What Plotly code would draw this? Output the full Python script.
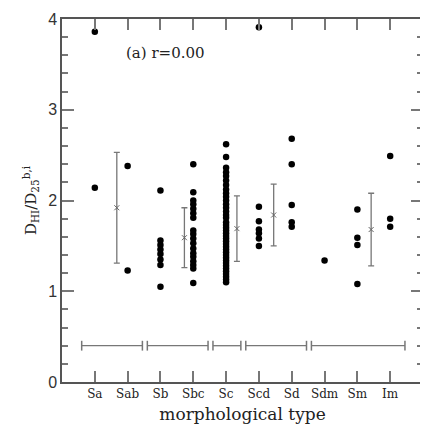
import plotly.graph_objects as go

categories = ["Sa", "Sab", "Sb", "Sbc", "Sc", "Scd", "Sd", "Sdm", "Sm", "Im"]

sa = [3.86, 2.14]
sab = [2.38, 1.23]
sb = [2.11, 1.56, 1.51, 1.46, 1.41, 1.35, 1.29, 1.05]
sbc = [2.40, 2.09, 2.00, 1.96, 1.91, 1.86, 1.81, 1.67, 1.63, 1.58, 1.53,
       1.47, 1.42, 1.38, 1.33, 1.29, 1.25, 1.09]
sc = [2.62, 2.48, 2.36, 2.31, 2.27, 2.22, 2.17, 2.12, 2.08, 2.04, 2.00,
      1.96, 1.92, 1.88, 1.84, 1.81, 1.76, 1.73, 1.70, 1.67, 1.64, 1.61,
      1.58, 1.55, 1.52, 1.49, 1.46, 1.43, 1.40, 1.37, 1.34, 1.31, 1.28,
      1.25, 1.22, 1.19, 1.16, 1.13, 1.10]
scd = [3.91, 1.93, 1.77, 1.68, 1.64, 1.58, 1.50]
sd = [2.68, 2.40, 1.95, 1.76, 1.71]
sdm = [1.34]
sm = [1.90, 1.59, 1.51, 1.08]
im = [2.49, 1.80, 1.71]

series = [sa, sab, sb, sbc, sc, scd, sd, sdm, sm, im]

# grouped means and spreads
group_pos = [1.67, 3.73, 5.33, 6.45, 9.42]
group_mean = [1.92, 1.59, 1.69, 1.84, 1.68]
group_sd = [0.61, 0.33, 0.36, 0.34, 0.40]

# grouping ranges (first and last category index of each group)
group_first = [1, 3, 5, 6, 8]
group_last = [2, 4, 5, 7, 10]
range_level = 0.4

fig = go.Figure()

xs, ys = [], []
for i, vals in enumerate(series):
    for v in vals:
        xs.append(i + 1)
        ys.append(v)
fig.add_trace(go.Scatter(x=xs, y=ys, mode="markers",
                         marker=dict(color="black", size=6.5),
                         showlegend=False, hoverinfo="skip"))

fig.add_trace(go.Scatter(
    x=group_pos, y=group_mean, mode="markers",
    marker=dict(symbol="x-thin", size=5, color="#666",
                line=dict(width=1, color="#666")),
    error_y=dict(type="data", array=group_sd, visible=True,
                 color="#777", thickness=1.3, width=3),
    showlegend=False, hoverinfo="skip"))

for a, b in zip(group_first, group_last):
    fig.add_trace(go.Scatter(
        x=[a - 0.4, b + 0.45], y=[range_level, range_level],
        mode="lines+markers",
        line=dict(color="#777", width=1.3),
        marker=dict(symbol="line-ns", size=7,
                    line=dict(width=1.5, color="#777")),
        showlegend=False, hoverinfo="skip"))

fig.add_annotation(x=1.9, y=3.62, text="(a) r=0.00", showarrow=False,
                   xanchor="left", yanchor="middle",
                   font=dict(family="DejaVu Serif", size=15, color="#222"))

axis_common = dict(showline=True, linecolor="#555", linewidth=1.5,
                   mirror="allticks", ticks="inside", tickcolor="#777",
                   tickwidth=1.5, showgrid=False, zeroline=False)

fig.update_xaxes(range=[0, 11], tickvals=list(range(1, 11)),
                 ticktext=categories, ticklen=11,
                 tickfont=dict(family="DejaVu Serif", size=12, color="#222"),
                 title=dict(text="morphological type",
                            font=dict(family="DejaVu Serif", size=17, color="#222"),
                            standoff=8),
                 **axis_common)
fig.update_yaxes(range=[0, 4], tickvals=[0, 1, 2, 3, 4], ticklen=12,
                 minor=dict(dtick=0.2, ticklen=6, ticks="inside",
                            tickcolor="#777", tickwidth=1.5),
                 tickfont=dict(family="Liberation Sans", size=16, color="#333"),
                 title=dict(text="D<sub>HI</sub>/D<sub>25</sub><sup>b,i</sup>",
                            font=dict(family="DejaVu Serif", size=15, color="#222"),
                            standoff=8),
                 **axis_common)

# the page body adds an 8px offset, so the figure is sized to fit the window
fig.update_layout(width=420, height=429,
                  margin=dict(l=54, r=3, t=10, b=55),
                  plot_bgcolor="white", paper_bgcolor="white")

fig.write_html("out.html")
